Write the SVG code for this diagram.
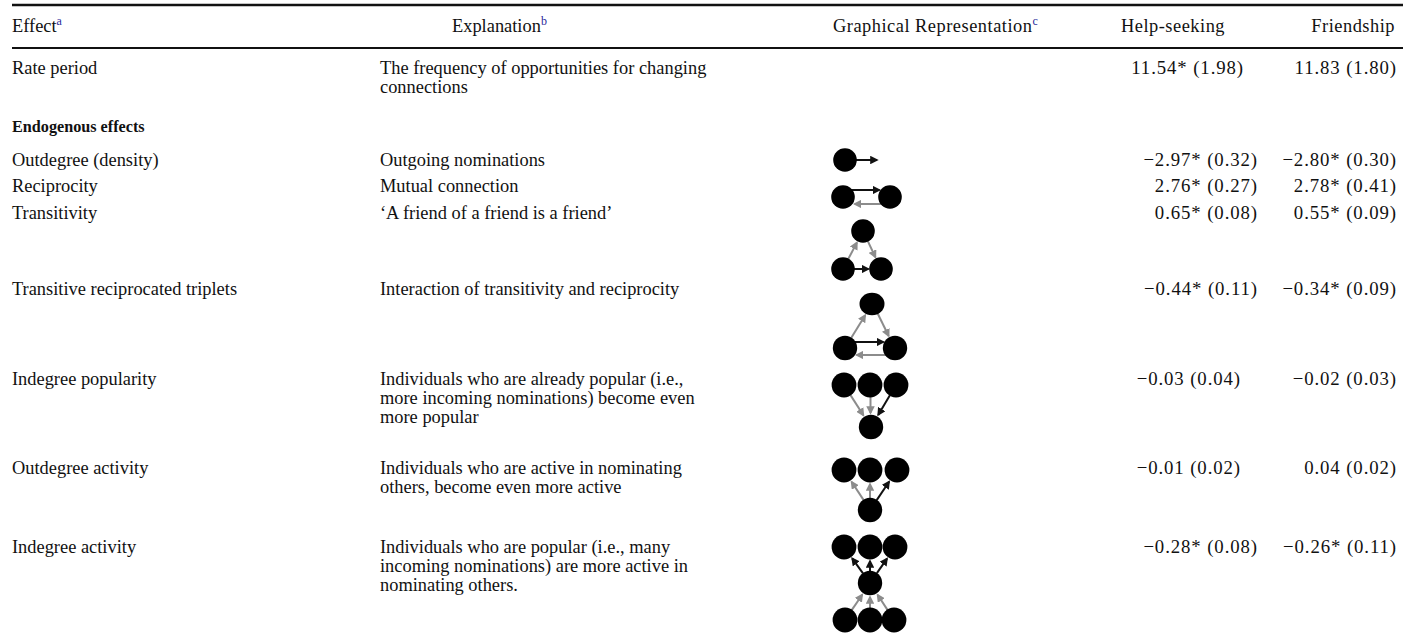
<svg xmlns="http://www.w3.org/2000/svg" width="1415" height="633" viewBox="0 0 1415 633">
<style>
text{font-family:"Liberation Serif","Times New Roman",serif;font-size:18.4px;fill:#111}
.b{font-weight:bold;font-size:16.2px}
.sup{font-size:12px;fill:#2a2a9a;letter-spacing:0}
.e{text-anchor:end}
.v{letter-spacing:0.9px;font-size:18.8px}
.h{letter-spacing:0.5px}
.rule{stroke:#111;stroke-width:2.5}
.n{fill:#000}
.k{stroke:#111;stroke-width:2;marker-end:url(#ak)}
.g{stroke:#8c8c8c;stroke-width:2;marker-end:url(#ag)}
</style>
<defs>
<marker id="ak" viewBox="0 0 10 10" refX="8" refY="5" markerWidth="8.5" markerHeight="8.5" markerUnits="userSpaceOnUse" orient="auto"><path d="M0,0 L10,5 L0,10 z" fill="#111"/></marker>
<marker id="ag" viewBox="0 0 10 10" refX="8" refY="5" markerWidth="8.5" markerHeight="8.5" markerUnits="userSpaceOnUse" orient="auto"><path d="M0,0 L10,5 L0,10 z" fill="#8c8c8c"/></marker>
</defs>
<g id="table-rules">
<line class="rule" x1="12" y1="5" x2="1403" y2="5"/>
<line class="rule" x1="12" y1="48" x2="1403" y2="48" style="stroke-width:2"/>
</g>
<g id="header">
<text x="12" y="32">Effect<tspan class="sup" dy="-7">a</tspan></text>
<text x="452" y="32">Explanation<tspan class="sup" dy="-7">b</tspan></text>
<text x="833" y="32" class="h">Graphical Representation<tspan class="sup" dy="-7">c</tspan></text>
<text x="1121" y="32" class="h">Help-seeking</text>
<text x="1395" y="32" class="e h">Friendship</text>
</g>
<g id="col-effect">
<text x="12" y="74">Rate period</text>
<text x="12" y="132" class="b">Endogenous effects</text>
<text x="12" y="166">Outdegree (density)</text>
<text x="12" y="192">Reciprocity</text>
<text x="12" y="219">Transitivity</text>
<text x="12" y="295">Transitive reciprocated triplets</text>
<text x="12" y="385">Indegree popularity</text>
<text x="12" y="474">Outdegree activity</text>
<text x="12" y="553">Indegree activity</text>
</g>
<g id="col-explanation">
<text x="380" y="74">The frequency of opportunities for changing</text>
<text x="380" y="93">connections</text>
<text x="380" y="166">Outgoing nominations</text>
<text x="380" y="192">Mutual connection</text>
<text x="380" y="219">‘A friend of a friend is a friend’</text>
<text x="380" y="295">Interaction of transitivity and reciprocity</text>
<text x="380" y="385">Individuals who are already popular (i.e.,</text>
<text x="380" y="404">more incoming nominations) become even</text>
<text x="380" y="423">more popular</text>
<text x="380" y="474">Individuals who are active in nominating</text>
<text x="380" y="493">others, become even more active</text>
<text x="380" y="553">Individuals who are popular (i.e., many</text>
<text x="380" y="572">incoming nominations) are more active in</text>
<text x="380" y="591">nominating others.</text>
</g>
<g id="col-help">
<text x="1244" y="74" class="e v">11.54* (1.98)</text>
<text x="1258" y="166" class="e v">−2.97* (0.32)</text>
<text x="1258" y="192" class="e v">2.76* (0.27)</text>
<text x="1258" y="219" class="e v">0.65* (0.08)</text>
<text x="1258" y="295" class="e v">−0.44* (0.11)</text>
<text x="1241" y="385" class="e v">−0.03 (0.04)</text>
<text x="1241" y="474" class="e v">−0.01 (0.02)</text>
<text x="1258" y="553" class="e v">−0.28* (0.08)</text>
</g>
<g id="col-friend">
<text x="1397" y="74" class="e v">11.83 (1.80)</text>
<text x="1397" y="166" class="e v">−2.80* (0.30)</text>
<text x="1397" y="192" class="e v">2.78* (0.41)</text>
<text x="1397" y="219" class="e v">0.55* (0.09)</text>
<text x="1397" y="295" class="e v">−0.34* (0.09)</text>
<text x="1397" y="385" class="e v">−0.02 (0.03)</text>
<text x="1397" y="474" class="e v">0.04 (0.02)</text>
<text x="1397" y="553" class="e v">−0.26* (0.11)</text>
</g>
<g id="connectors">
<line class="k" x1="856" y1="160" x2="877" y2="160"/>
<line class="k" x1="848" y1="190" x2="879.5" y2="190"/>
<line class="g" x1="886" y1="204" x2="854.5" y2="204"/>
<line class="g" x1="848.1" y1="259.3" x2="856.9" y2="242.6"/>
<line class="g" x1="867.7" y1="240.9" x2="875.4" y2="257.2"/>
<line class="k" x1="854" y1="269" x2="868.5" y2="269"/>
<line class="k" x1="850" y1="342" x2="883.5" y2="342"/>
<line class="g" x1="890" y1="355" x2="856.5" y2="355"/>
<line class="g" x1="851.3" y1="337.8" x2="865.2" y2="315.2"/>
<line class="g" x1="877.8" y1="313.8" x2="888.7" y2="336"/>
<line class="g" x1="850.5" y1="395.1" x2="863.4" y2="415.2"/>
<line class="g" x1="870.5" y1="397" x2="870.5" y2="413"/>
<line class="k" x1="889.9" y1="395.3" x2="878.2" y2="414.9"/>
<line class="g" x1="863.5" y1="499.9" x2="851.6" y2="481.8"/>
<line class="g" x1="870" y1="498" x2="870" y2="484"/>
<line class="k" x1="876.7" y1="500.1" x2="889.1" y2="481.7"/>
<line class="k" x1="863" y1="573.3" x2="852.2" y2="558.4"/>
<line class="k" x1="870" y1="571" x2="870" y2="561"/>
<line class="k" x1="876.9" y1="573.1" x2="887" y2="558.6"/>
<line class="g" x1="851.7" y1="610.1" x2="862.2" y2="594.7"/>
<line class="g" x1="870" y1="608" x2="870" y2="597"/>
<line class="g" x1="887.5" y1="609.9" x2="877.6" y2="594.8"/>
</g>
<g id="icon-outdegree"><circle class="n" cx="845" cy="160" r="11.8"/></g>
<g id="icon-reciprocity"><circle class="n" cx="843" cy="197" r="11.8"/><circle class="n" cx="890" cy="197" r="11.8"/></g>
<g id="icon-transitivity"><circle class="n" cx="863" cy="231" r="11.8"/><circle class="n" cx="843" cy="269" r="11.8"/><circle class="n" cx="881" cy="269" r="11.8"/></g>
<g id="icon-trt"><ellipse class="n" cx="872" cy="304" rx="12.5" ry="11.2"/><circle class="n" cx="845" cy="348" r="12.2"/><circle class="n" cx="895" cy="348" r="12.2"/></g>
<g id="icon-indeg-pop"><circle class="n" cx="844" cy="385" r="12.4"/><circle class="n" cx="870" cy="385" r="12.4"/><circle class="n" cx="896" cy="385" r="12.4"/><circle class="n" cx="871" cy="427" r="12.2"/></g>
<g id="icon-outdeg-act"><circle class="n" cx="844" cy="470" r="12.4"/><circle class="n" cx="870" cy="470" r="12.4"/><circle class="n" cx="897" cy="470" r="12.4"/><circle class="n" cx="870" cy="510" r="12.2"/></g>
<g id="icon-indeg-act"><circle class="n" cx="844" cy="547" r="12.4"/><circle class="n" cx="870" cy="547" r="12.4"/><circle class="n" cx="895" cy="547" r="12.4"/><circle class="n" cx="870" cy="583" r="12.2"/><circle class="n" cx="845" cy="620" r="12.4"/><circle class="n" cx="870" cy="620" r="12.4"/><circle class="n" cx="894" cy="620" r="12.4"/></g>
</svg>
